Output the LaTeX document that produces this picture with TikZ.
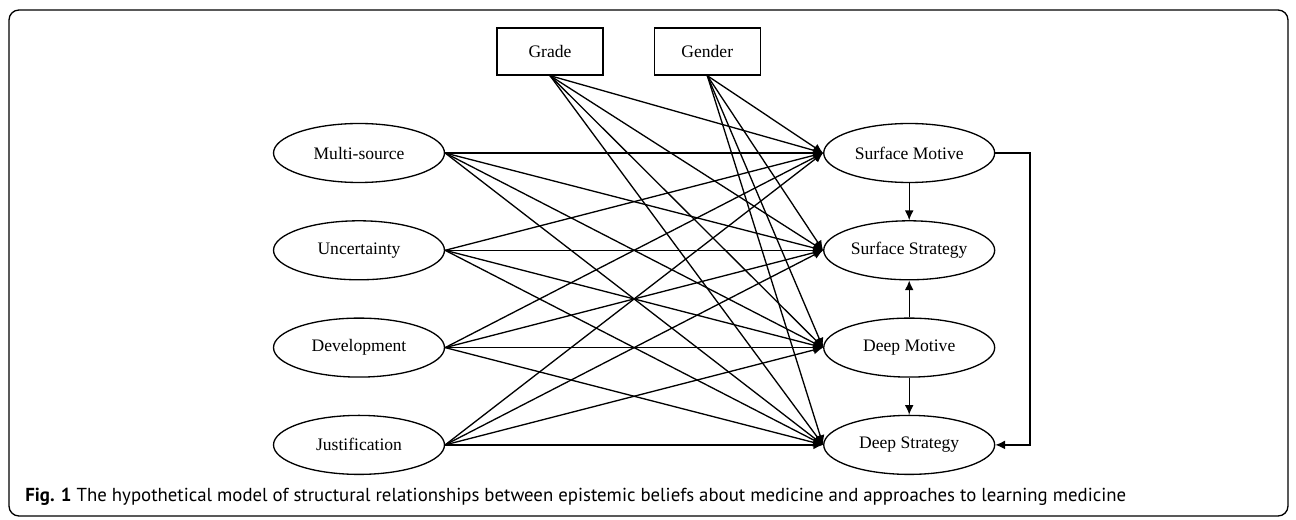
\documentclass[tikz,border=0pt]{standalone}
\usepackage{fontspec}
\setmainfont{Liberation Serif}
\newfontfamily\capfont{PT Sans}
\usetikzlibrary{positioning}
\usetikzlibrary{shapes}
\usetikzlibrary{arrows.meta}

\tikzset{
	belief/.style={ellipse,draw,line width=0.75pt,minimum width=3.42cm,minimum height=1.18cm,inner sep=0pt,font=\fontsize{10}{12}\selectfont},
	factor/.style={rectangle,draw,line width=0.75pt,minimum width=2.12cm,minimum height=0.94cm,inner sep=0pt,font=\fontsize{10}{12}\selectfont},
	link/.style={-{Latex[length=5.5pt,width=5pt]},line width=0.75pt}
}

\begin{document}
\begin{tikzpicture}[x=0.02cm,y=-0.02cm,node distance=0.74cm,on grid=false]
				    \useasboundingbox (0,0) rectangle (1296,520);
				    \draw [rounded corners=0.2cm,line width=0.75pt] (9,10) rectangle (1288,516);

				    % Place nodes
				    \node [belief] (multi) at (359,153) {Multi-source};
				    \node [belief,below=of multi] (uncert) {Uncertainty};
				    \node [belief,below=of uncert] (devel) {Development};
				    \node [belief,below=of devel] (justif) {Justification};
				    \node [belief,right=7.56cm of multi] (smot) {Surface Motive};
				    \node [belief,below=of smot] (sstr) {Surface Strategy};
				    \node [belief,below=of sstr] (dmot) {Deep Motive};
				    \node [belief,below=of dmot] (dstr) {Deep Strategy};
				    \node [factor] (grade) at (550,51.5) {Grade};
				    \node [factor,right=1cm of grade] (gender) {Gender};
				    \coordinate (bend) at (1030,153);

				    \path [every edge/.style={draw,link}] (multi.east) edge (smot.west) edge (sstr.west) edge (dmot.west) edge (dstr.west);
				    \path [every edge/.style={draw,link}] (uncert.east) edge (smot.west) edge (sstr.west) edge (dmot.west) edge (dstr.west);
				    \path [every edge/.style={draw,link}] (devel.east) edge (smot.west) edge (sstr.west) edge (dmot.west) edge (dstr.west);
				    \path [every edge/.style={draw,link}] (justif.east) edge (smot.west) edge (sstr.west) edge (dmot.west) edge (dstr.west);
				    \path [every edge/.style={draw,link}] (grade.south) edge (smot.west) edge (sstr.west) edge (dmot.west) edge (dstr.west);
				    \path [every edge/.style={draw,link}] (gender.south) edge (smot.west) edge (sstr.west) edge (dmot.west) edge (dstr.west);

				    \draw [link] (smot) -- (sstr);
				    \draw [link] (dmot) -- (sstr);
				    \draw [link] (dmot) -- (dstr);
				    \draw [link] (smot.east) -- (bend) |- (dstr.east);

				    \node [anchor=base west,inner sep=0pt,font=\capfont\fontsize{10.7}{12}\selectfont] (caption) at (25,501)
	{\textbf{Fig. 1} The hypothetical model of structural relationships between epistemic beliefs about medicine and approaches to learning medicine};
\end{tikzpicture}
\end{document}
